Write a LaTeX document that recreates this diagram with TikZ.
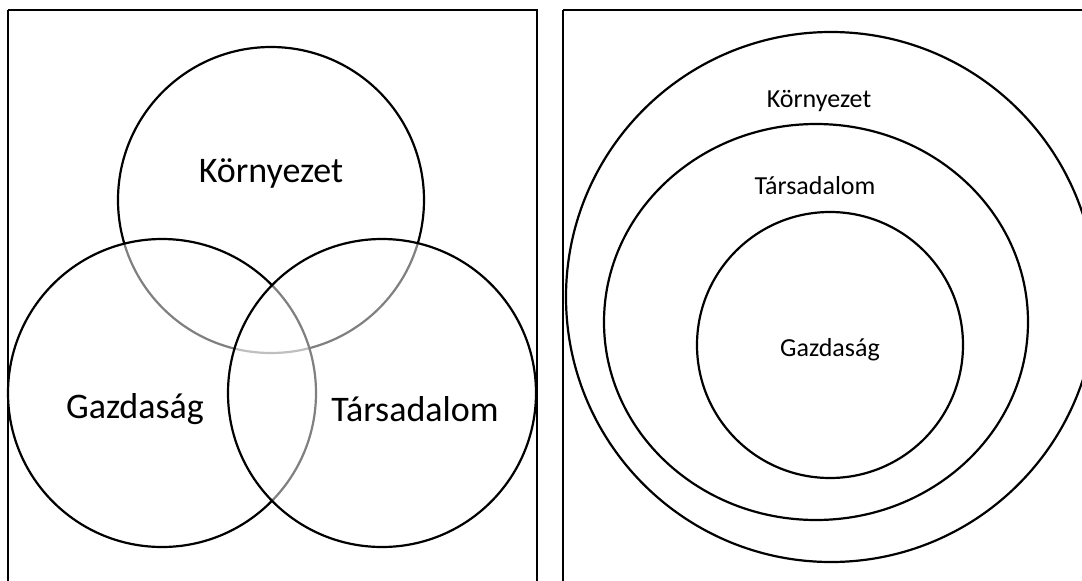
\documentclass[tikz,border=0pt]{standalone}
\usepackage{fontspec}
\setmainfont{Carlito}
\begin{document}
\begin{tikzpicture}[x=1pt,y=-1pt,
  frame/.style={draw=black,line width=1.6pt},
  ring/.style={draw=black,line width=2.2pt},
  venn/.style={draw=black,line width=2.2pt,fill=white,fill opacity=0.5},
  bigtxt/.style={font=\fontsize{36}{40}\selectfont,inner sep=0pt},
  smalltxt/.style={font=\fontsize{26}{30}\selectfont,inner sep=0pt}]
\useasboundingbox (0,0) rectangle (1082,581);
% frames of the two panels
\draw[frame] (8,10) -- (8,600) (8,10) -- (537,10) -- (537,600);
\draw[frame] (563,10) -- (563,600) (563,10) -- (1100,10);
% left panel: three overlapping circles
\begin{scope}
\clip (0,0) rectangle (1082,581);
\path[venn] (271,200) circle[radius=153];
\path[venn] (162,393) circle[radius=154];
\path[venn] (382,393) circle[radius=154];
\end{scope}
\node[bigtxt] (env) at (271,173) {Környezet};
\node[bigtxt] (eco) at (135,409) {Gazdaság};
\node[bigtxt] (soc) at (415,409) {Társadalom};
% right panel: nested circles
\begin{scope}
\clip (563,0) rectangle (1082,581);
\draw[ring] (831,297) circle[radius=265];
\draw[ring] (816,322) ellipse[x radius=212,y radius=198];
\draw[ring] (830,345) circle[radius=133];
\end{scope}
\node[smalltxt] (env2) at (819,101) {Környezet};
\node[smalltxt] (soc2) at (815,186) {Társadalom};
\node[smalltxt] (eco2) at (830,350) {Gazdaság};
\end{tikzpicture}
\end{document}
